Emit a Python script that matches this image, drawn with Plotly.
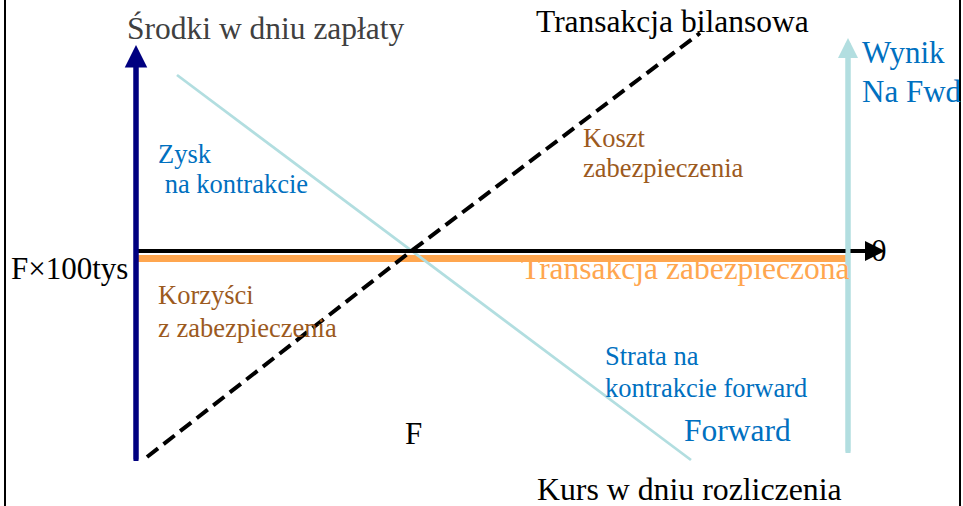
import plotly.graph_objects as go

# ---- diagram data (diagram units: x = settlement rate, y = funds; y grows downward) ----
balance_x = [147, 410, 700]          # "Transakcja bilansowa" (dashed)
balance_y = [457, 252, 33]
forward_x = [177, 691]               # forward contract result line
forward_y = [75, 460]
hedged_x = [138, 848]                # "Transakcja zabezpieczona"
hedged_y = [258.5, 258.5]
funds_axis_x = [136, 136]            # vertical axis "Środki w dniu zapłaty"
funds_axis_y = [461, 45]
rate_axis_x = [138, 885]             # horizontal axis "Kurs w dniu rozliczenia"
rate_axis_y = [251, 251]
fwd_axis_x = [848, 848]              # "Wynik Na Fwd" axis
fwd_axis_y = [453, 38]

labels = ["Środki w dniu zapłaty", "Transakcja bilansowa", "Wynik", "Na Fwd",
          "Zysk", " na kontrakcie", "Koszt", "zabezpieczenia", "F×100tys",
          "Korzyści", "z zabezpieczenia", "Transakcja zabezpieczona", "0",
          "Strata na", "kontrakcie forward", "Forward", "F", "Kurs w dniu rozliczenia"]
label_x = [125, 534, 860, 860, 156, 156, 581, 581, 9, 156, 156, 519, 869, 603, 603, 682, 403, 535]
label_y = [28.5, 21, 52.5, 91.5, 154, 184, 138, 168, 268.5, 295, 328, 268.5, 250.5, 356, 388, 430.5, 433.5, 489.5]
label_size = [31.5, 31.5, 31, 31, 26.5, 26.5, 26.5, 26.5, 31, 26.5, 26.5, 31.5, 31, 26.5, 26.5, 31.5, 31, 31.8]

BLUE = "#0070C0"
BROWN = "#9C5A1E"
ORANGE = "#FFA64F"
CYAN = "#B2DEE0"
NAVY = "#000080"
label_color = ["#404040", "#000000", BLUE, BLUE, BLUE, BLUE, BROWN, BROWN, "#000000",
               BROWN, BROWN, ORANGE, "#000000", BLUE, BLUE, BLUE, "#000000", "#000000"]
SERIF = "'Liberation Serif', 'Times New Roman', 'DejaVu Serif', serif"

fig = go.Figure()

fig.add_trace(go.Scatter(x=hedged_x, y=hedged_y, mode="lines",
                         line=dict(color=ORANGE, width=7), hoverinfo="skip"))
fig.add_trace(go.Scatter(x=rate_axis_x[:1] + [rate_axis_x[1] - 12], y=rate_axis_y, mode="lines",
                         line=dict(color="#000000", width=4), hoverinfo="skip"))
fig.add_trace(go.Scatter(x=funds_axis_x, y=[funds_axis_y[0], funds_axis_y[1] + 12], mode="lines",
                         line=dict(color=NAVY, width=5), hoverinfo="skip"))
fig.add_trace(go.Scatter(x=balance_x, y=balance_y, mode="lines",
                         line=dict(color="#000000", width=4, dash="14px,7px"), hoverinfo="skip"))
fig.add_trace(go.Scatter(x=forward_x, y=forward_y, mode="lines",
                         line=dict(color=CYAN, width=2.8), hoverinfo="skip"))
fig.add_trace(go.Scatter(x=fwd_axis_x, y=[fwd_axis_y[0], fwd_axis_y[1] + 12], mode="lines",
                         line=dict(color=CYAN, width=5), hoverinfo="skip"))

annotations = []
# arrow heads
for ax_x, ax_y, col, w, s in [(rate_axis_x, rate_axis_y, "#000000", 4, 1.0),
                              (funds_axis_x, funds_axis_y, NAVY, 5, 0.9),
                              (fwd_axis_x, fwd_axis_y, CYAN, 5, 0.8)]:
    annotations.append(dict(x=ax_x[1], y=ax_y[1], ax=ax_x[0], ay=ax_y[0],
                            xref="x", yref="y", axref="x", ayref="y", text="",
                            showarrow=True, arrowhead=2, arrowwidth=w, arrowsize=s,
                            arrowcolor=col))

for t, x, y, s, c in zip(labels, label_x, label_y, label_size, label_color):
    annotations.append(dict(x=x, y=y, xref="x", yref="y",
                            text=t.replace(" ", "&nbsp;", 1) if t.startswith(" ") else t,
                            showarrow=False, xanchor="left", yanchor="middle",
                            font=dict(family=SERIF, size=s, color=c)))

shapes = [
    dict(type="line", xref="x", yref="paper", x0=5, x1=5, y0=0, y1=1,
         line=dict(color="#000000", width=2)),
    dict(type="line", xref="x", yref="paper", x0=960, x1=960, y0=0, y1=1,
         line=dict(color="#000000", width=2)),
]

fig.update_layout(
    width=963, height=506,
    margin=dict(l=0, r=0, t=0, b=0),
    paper_bgcolor="white", plot_bgcolor="white",
    showlegend=False,
    xaxis=dict(range=[0, 963], visible=False, fixedrange=True),
    yaxis=dict(range=[506, 0], visible=False, fixedrange=True),
    annotations=annotations,
    shapes=shapes,
)

fig.write_html("out.html", config={"displayModeBar": False},
               post_script="document.body.style.margin='0';document.body.style.overflow='hidden';")
